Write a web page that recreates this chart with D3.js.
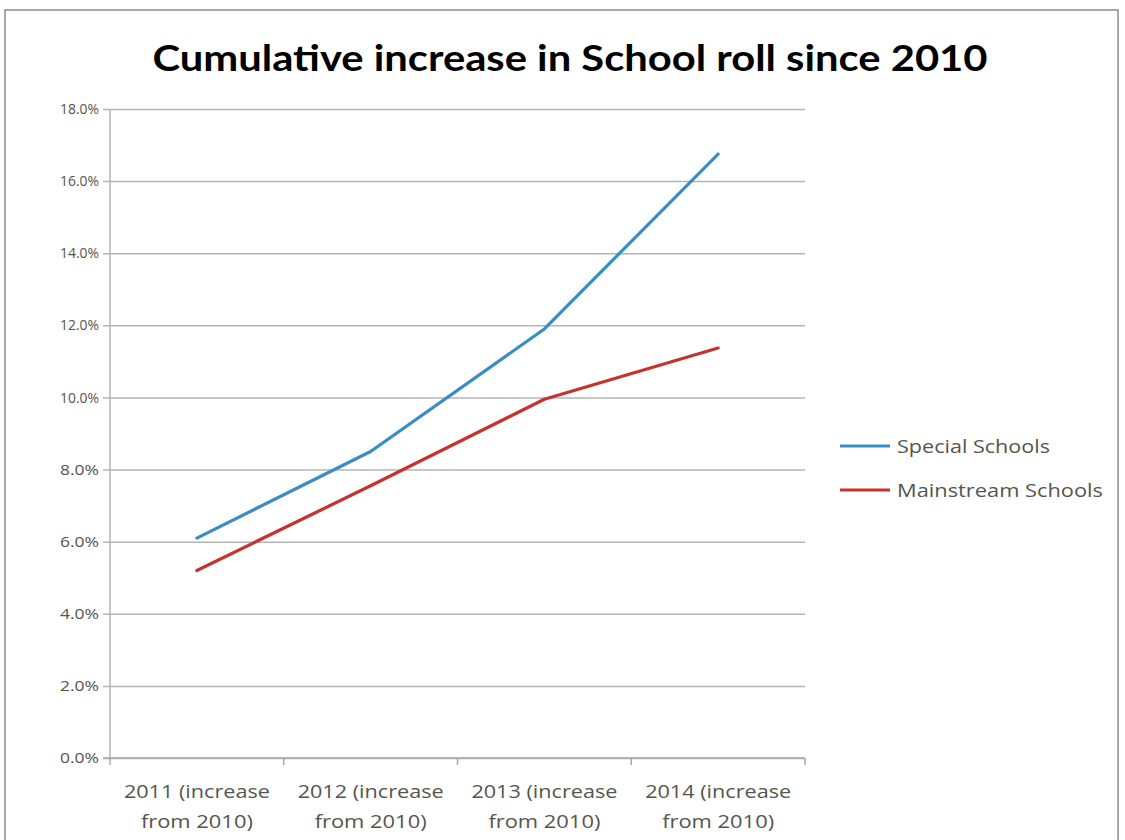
<!DOCTYPE html>
<html>
<head>
<meta charset="utf-8">
<script src="https://cdn.jsdelivr.net/npm/d3@7"></script>
<style>
  body { margin: 0; background: #fff; }
  svg { display: block; }
</style>
</head>
<body>
<div id="chart"></div>
<script>
const WIDTH = 1125;
const HEIGHT = 840;

const categories = ['2011', '2012', '2013', '2014'];
const catLine1 = ['2011 (increase', '2012 (increase', '2013 (increase', '2014 (increase'];
const catLine2 = ['from 2010)', 'from 2010)', 'from 2010)', 'from 2010)'];
const special = [6.1, 8.5, 11.9, 16.75];
const mainstream = [5.2, 7.55, 9.95, 11.37];
const yTicks = [0, 2, 4, 6, 8, 10, 12, 14, 16, 18];
const seriesNames = ['Special Schools', 'Mainstream Schools'];
const seriesColors = ['#3a8dc4', '#c4332d'];

const LEFT = 110;
const RIGHT = 805;
const TOP = 109;
const BOTTOM = 758;
const FONT = 'Open Sans, Lato, sans-serif';
const TEXT = '#55554c';

const svg = d3.select('#chart').append('svg')
  .attr('width', WIDTH)
  .attr('height', HEIGHT);

// outer chart frame
svg.append('rect')
  .attr('x', 5).attr('y', 10)
  .attr('width', 1113).attr('height', 840)
  .attr('fill', 'none')
  .attr('stroke', '#8a8a8a')
  .attr('stroke-width', 1.5);

svg.append('text')
  .attr('x', 570).attr('y', 71)
  .attr('text-anchor', 'middle')
  .attr('font-family', 'Lato, sans-serif')
  .attr('font-weight', 'bold')
  .attr('font-size', 36)
  .attr('textLength', 835)
  .attr('lengthAdjust', 'spacingAndGlyphs')
  .attr('fill', '#000')
  .text('Cumulative increase in School roll since 2010');

const x = d3.scaleBand().domain(categories).range([LEFT, RIGHT]);
const y = d3.scaleLinear().domain([0, 18]).range([BOTTOM, TOP]);

// gridlines + y labels
const yAxis = d3.axisLeft(y)
  .tickValues(yTicks)
  .tickSize(-(RIGHT - LEFT))
  .tickPadding(11)
  .tickFormat(d => d3.format('.1f')(d) + '%');

const gy = svg.append('g')
  .attr('transform', `translate(${LEFT},0)`)
  .call(yAxis);
gy.select('.domain').remove();
gy.selectAll('.tick line')
  .attr('x1', -7)
  .attr('stroke', '#b4b4b4')
  .attr('stroke-width', 1.5);
gy.selectAll('.tick text')
  .attr('font-family', FONT)
  .attr('font-size', 14.5)
  .attr('textLength', 39)
  .attr('lengthAdjust', 'spacingAndGlyphs')
  .attr('fill', TEXT);

// y axis line
svg.append('line')
  .attr('x1', LEFT).attr('x2', LEFT)
  .attr('y1', TOP).attr('y2', BOTTOM)
  .attr('stroke', '#b4b4b4')
  .attr('stroke-width', 1.5);

// x axis line with ticks on band edges
const xEdges = categories.map(c => x(c)).concat([RIGHT]);
svg.append('line')
  .attr('x1', LEFT - 7).attr('x2', RIGHT)
  .attr('y1', BOTTOM).attr('y2', BOTTOM)
  .attr('stroke', '#a8a8a8')
  .attr('stroke-width', 1.5);
svg.selectAll('.xtick').data(xEdges).enter().append('line')
  .attr('x1', d => d).attr('x2', d => d)
  .attr('y1', BOTTOM).attr('y2', BOTTOM + 7)
  .attr('stroke', '#a8a8a8')
  .attr('stroke-width', 1.5);

// category labels
const catG = svg.selectAll('.cat').data(categories).enter().append('g');
catG.append('text')
  .attr('x', d => x(d) + x.bandwidth() / 2)
  .attr('y', 798)
  .attr('text-anchor', 'middle')
  .attr('font-family', FONT)
  .attr('font-size', 17.5)
  .attr('textLength', 146)
  .attr('lengthAdjust', 'spacingAndGlyphs')
  .attr('fill', TEXT)
  .text((d, i) => catLine1[i]);
catG.append('text')
  .attr('x', d => x(d) + x.bandwidth() / 2)
  .attr('y', 828)
  .attr('text-anchor', 'middle')
  .attr('font-family', FONT)
  .attr('font-size', 17.5)
  .attr('textLength', 112)
  .attr('lengthAdjust', 'spacingAndGlyphs')
  .attr('fill', TEXT)
  .text((d, i) => catLine2[i]);

// lines
const line = d3.line()
  .x((d, i) => x(categories[i]) + x.bandwidth() / 2)
  .y(d => y(d));

[special, mainstream].forEach((s, k) => {
  svg.append('path')
    .datum(s)
    .attr('d', line)
    .attr('fill', 'none')
    .attr('stroke', seriesColors[k])
    .attr('stroke-width', 3.2)
    .attr('stroke-linejoin', 'round')
    .attr('stroke-linecap', 'round');
});

// legend
const legendLen = [153, 206];
const legend = svg.selectAll('.legend').data(seriesNames).enter().append('g')
  .attr('transform', (d, i) => `translate(840,${446 + i * 44})`);
legend.append('line')
  .attr('x1', 0).attr('x2', 50)
  .attr('stroke', (d, i) => seriesColors[i])
  .attr('stroke-width', 3.2);
legend.append('text')
  .attr('x', 57).attr('y', 6.5)
  .attr('font-family', FONT)
  .attr('font-size', 18)
  .attr('textLength', (d, i) => legendLen[i])
  .attr('lengthAdjust', 'spacingAndGlyphs')
  .attr('fill', TEXT)
  .text(d => d);
</script>
</body>
</html>
